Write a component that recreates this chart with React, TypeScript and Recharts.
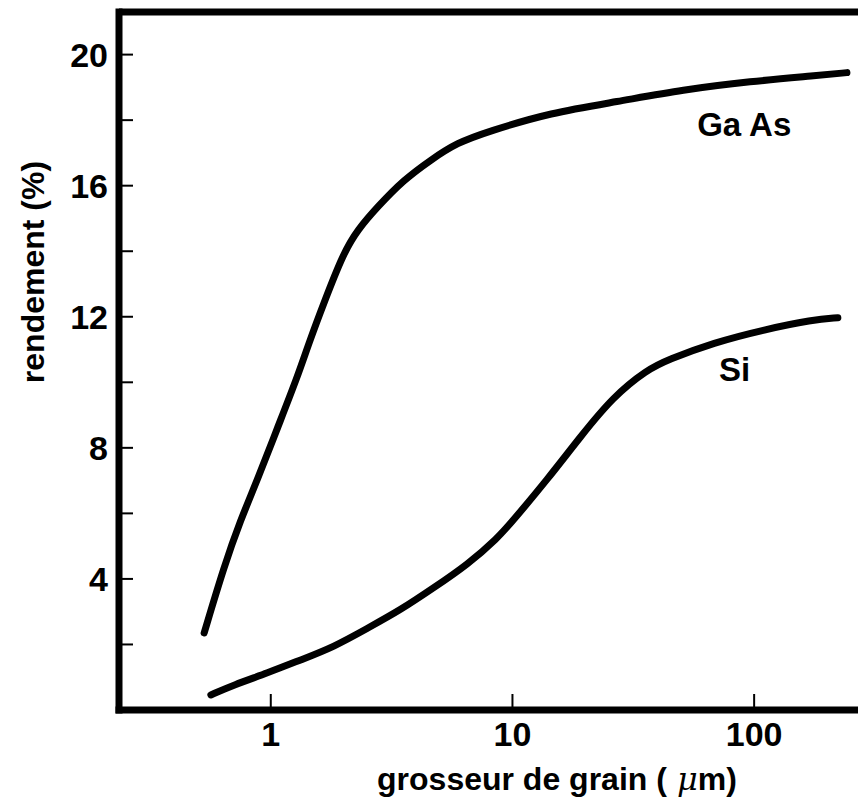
import { LineChart, Line, XAxis, YAxis, ReferenceLine, ReferenceDot } from 'recharts';

// grain size (µm) and yield (%)
const gaAsGrain = [0.53, 0.64, 0.75, 0.88, 1.07, 1.29, 1.44, 1.66, 2.0, 2.29, 2.77, 3.55, 4.6, 5.9, 7.9, 14.4, 27, 51, 96, 182, 242];
const gaAsYield = [2.35, 4.37, 5.8, 7.02, 8.64, 10.17, 11.21, 12.43, 13.95, 14.66, 15.36, 16.18, 16.79, 17.31, 17.65, 18.23, 18.56, 18.93, 19.18, 19.36, 19.45];

const siGrain = [0.565, 0.7, 0.97, 1.33, 1.82, 2.52, 3.44, 4.72, 6.5, 8.7, 10.1, 13.9, 19.1, 26.1, 36, 44, 68, 109, 175, 222];
const siYield = [0.46, 0.76, 1.13, 1.53, 1.92, 2.5, 3.05, 3.73, 4.43, 5.25, 5.8, 7.02, 8.34, 9.56, 10.38, 10.69, 11.21, 11.6, 11.91, 11.97];

const xTicks = [1, 10, 100];
const yTicks = [2, 4, 6, 8, 10, 12, 14, 16, 18, 20];
const yMax = 21.3;

const gaAs = gaAsGrain.map((g, i) => ({ g, r: gaAsYield[i] }));
const si = siGrain.map((g, i) => ({ g, r: siYield[i] }));

const font = 'Liberation Sans, Arial, Helvetica, sans-serif';
const textStyle = { fontFamily: font, fontWeight: 700, fontSize: 32, fill: '#000' };
const tickStyle = { ...textStyle, fontSize: 34 };

function XTitle() {
  return (
    <text x={557} y={790} textAnchor='middle' style={textStyle}>
      grosseur de grain (
      <tspan fontStyle='italic' fontWeight={400} fontFamily='DejaVu Serif, serif'>
        {' μ'}
      </tspan>
      m)
    </text>
  );
}

function YTitle() {
  return (
    <text x={44} y={272} textAnchor='middle' transform='rotate(-90 44 272)' style={textStyle}>
      rendement (%)
    </text>
  );
}

export default function App() {
  return (
    <div style={{ position: 'absolute', left: 0, top: 0, background: '#fff' }}>
      <LineChart width={858} height={803} margin={{ top: 12, right: 0, bottom: 33, left: 19 }}>
        <XAxis
          dataKey='g'
          type='number'
          scale='log'
          domain={[0.2355, 269]}
          allowDataOverflow
          ticks={xTicks}
          height={60}
          axisLine={{ stroke: '#000', strokeWidth: 7, strokeLinecap: 'square' }}
          tickLine={{ stroke: '#000', strokeWidth: 2 }}
          tickSize={-16}
          tickMargin={28}
          tick={{ ...tickStyle }}
          label={{ content: () => <XTitle /> }}
        />
        <YAxis
          type='number'
          domain={[0, yMax]}
          allowDataOverflow
          ticks={yTicks}
          width={100}
          tickFormatter={(v: number) => (v % 4 === 0 ? String(v) : '')}
          axisLine={{ stroke: '#000', strokeWidth: 7, strokeLinecap: 'square' }}
          tickLine={{ stroke: '#000', strokeWidth: 2 }}
          tickSize={-14}
          tickMargin={25}
          tick={{ ...tickStyle }}
          label={{ content: () => <YTitle /> }}
        />
        <ReferenceLine y={yMax} stroke='#000' strokeWidth={7} />
        <Line
          data={gaAs}
          dataKey='r'
          type='basis'
          stroke='#000'
          strokeWidth={7}
          strokeLinecap='round'
          dot={false}
          isAnimationActive={false}
        />
        <Line
          data={si}
          dataKey='r'
          type='basis'
          stroke='#000'
          strokeWidth={7}
          strokeLinecap='round'
          dot={false}
          isAnimationActive={false}
        />
        <ReferenceDot
          x={91}
          y={17.86}
          r={0}
          stroke='none'
          label={{ value: 'Ga As', position: 'center', ...textStyle, fontSize: 33 }}
        />
        <ReferenceDot
          x={83}
          y={10.41}
          r={0}
          stroke='none'
          label={{ value: 'Si', position: 'center', ...textStyle, fontSize: 33 }}
        />
      </LineChart>
    </div>
  );
}
